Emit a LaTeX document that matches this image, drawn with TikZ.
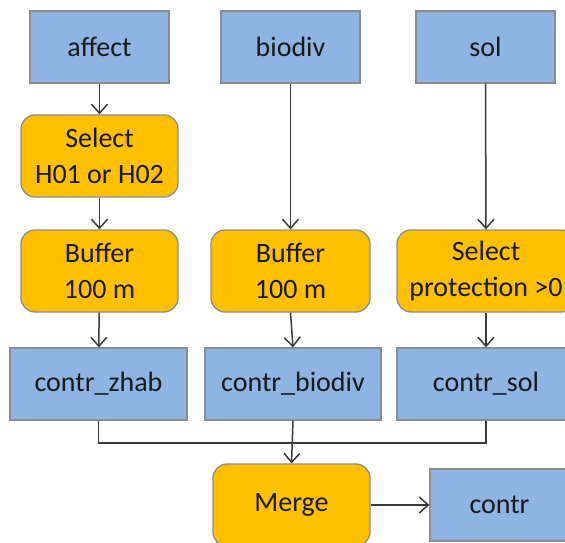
\documentclass[tikz,border=0pt]{standalone}
\usepackage{fontspec}
\setmainfont{Carlito}
\usetikzlibrary{arrows.meta}
\definecolor{dsblue}{HTML}{8EB4E3}
\definecolor{opamber}{HTML}{FFC000}
\definecolor{edgegray}{HTML}{8C8C8C}
\definecolor{linkgray}{HTML}{3A3A3A}
\tikzset{
  base/.style={draw=edgegray, line width=1.3pt, inner sep=0pt, align=center,
    text=black!90, font=\fontsize{28}{36}\selectfont},
  dataset/.style={base, fill=dsblue, minimum height=72pt},
  operation/.style={base, fill=opamber, rounded corners=14pt, minimum height=82pt},
  link/.style={draw=linkgray, line width=1.5pt},
  flow/.style={link, -{Straight Barb[length=9pt,width=16pt,line width=1.5pt]}}
}
\begin{document}
\begin{tikzpicture}[x=1pt,y=-1pt]
  \useasboundingbox (0,0) rectangle (565,543);
  \clip (0,0) rectangle (565,543);

  % input layers
  \node[dataset, minimum width=139pt] (affect) at (99.5,47) {affect};
  \node[dataset, minimum width=139pt] (biodiv) at (290.5,47) {biodiv};
  \node[dataset, minimum width=139pt] (sol) at (485.5,47) {sol};

  % processing steps
  \node[operation, minimum width=157pt] (selh) at (99.5,156) {Select\\H01 or H02};
  \node[operation, minimum width=157pt] (bufl) at (99.5,271) {Buffer\\100 m};
  \node[operation, minimum width=159pt] (bufm) at (290.5,271) {Buffer\\100 m};
  \node[operation, minimum width=178pt] (selp) at (486,271) {Select\\protection >0};

  % intermediate results
  \node[dataset, minimum width=177pt] (czhab) at (98.5,384) {contr\_zhab};
  \node[dataset, minimum width=176pt] (cbio) at (293,384) {contr\_biodiv};
  \node[dataset, minimum width=178pt] (csol) at (486,384) {contr\_sol};

  % final merge
  \node[operation, minimum width=157pt] (merge) at (291.5,505) {Merge};
  \node[dataset, minimum width=139pt] (contr) at (499.5,505) {contr};

  \coordinate (bus) at (293,443);

  % connectors
  \draw[flow] (affect) -- (selh);
  \draw[flow] (selh) -- (bufl);
  \draw[flow] (bufl) -- (czhab);
  \draw[flow] (biodiv) -- (bufm);
  \draw[flow] (bufm.south) -- (cbio.north);
  \draw[flow] (sol.south) -- (selp.north);
  \draw[flow] (selp.south) -- (csol.north);
  \draw[link] (czhab.south) |- (bus) -| (csol.south);
  \draw[flow] (cbio.south) -- (merge.north);
  \draw[flow] (merge.east) -- (contr.west);
\end{tikzpicture}
\end{document}
